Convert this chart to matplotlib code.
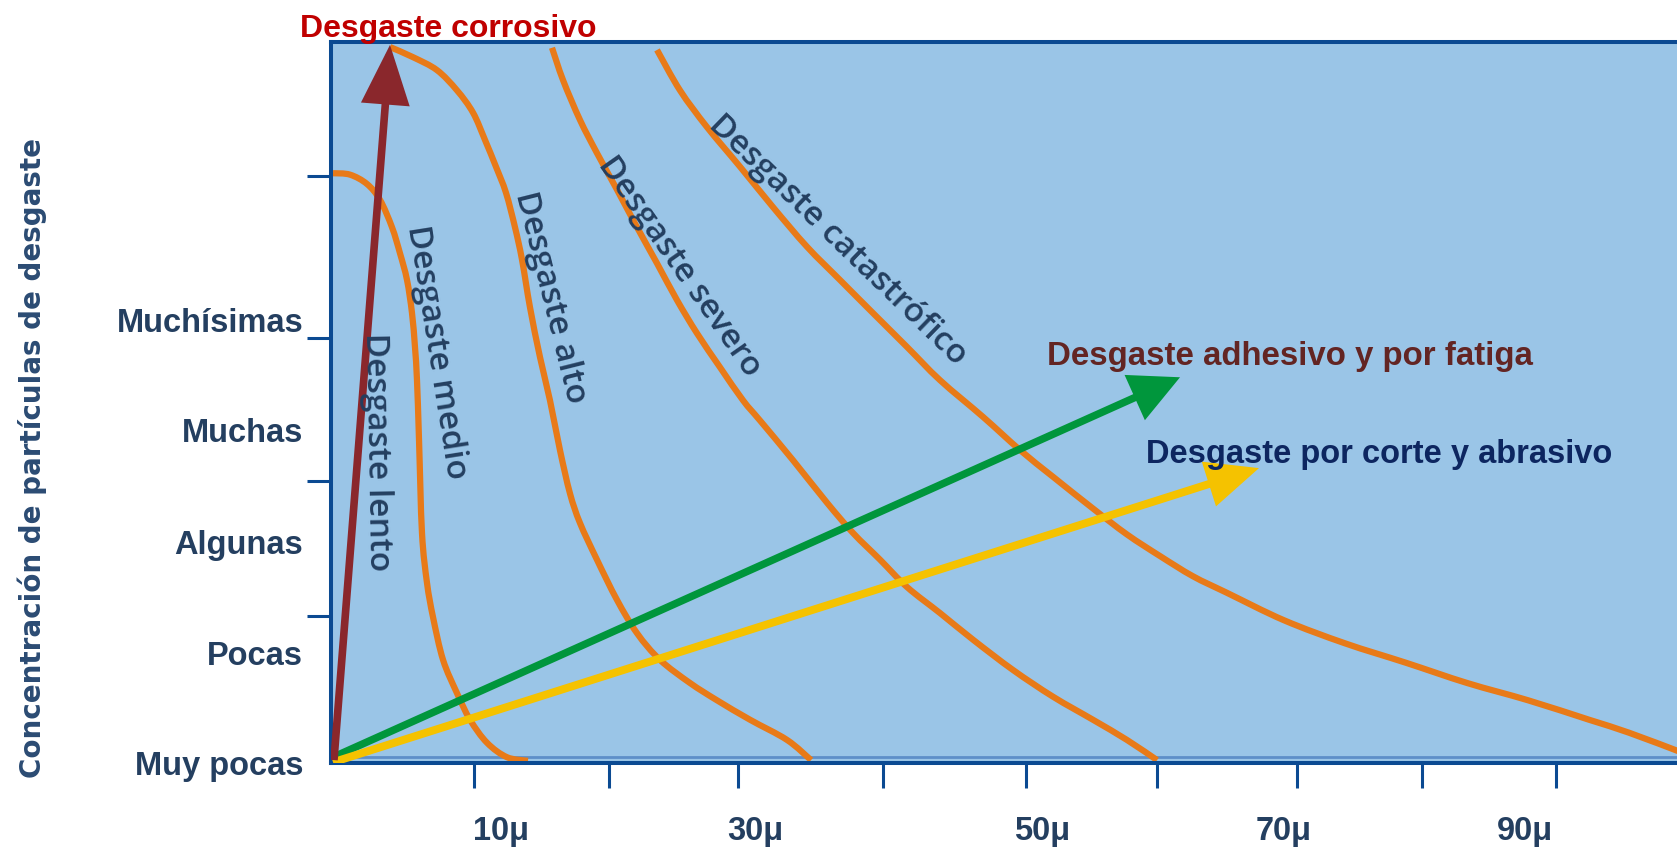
import matplotlib
matplotlib.use("Agg")
import matplotlib.pyplot as plt
from matplotlib.patches import FancyArrowPatch, ArrowStyle, PathPatch
from matplotlib.path import Path

# ---------------- data (axes units: x 0..100, y 0..100) ----------------
lento_x = [0.15, 1.41, 2.67, 3.63, 4.52, 5.11, 5.63, 6.0, 6.22, 6.37, 6.52, 6.74, 7.11, 7.56, 8.30, 9.33, 10.30, 11.56, 13.04, 14.59]
lento_y = [81.8, 81.6, 80.3, 78.1, 74.3, 70.7, 67.0, 62.4, 57.7, 53.1, 44.8, 31.9, 25.0, 20.2, 14.3, 9.7, 6.0, 2.8, 0.8, 0.3]

medio_x = [4.37, 6.07, 7.85, 9.33, 10.52, 11.41, 12.22, 12.96, 13.63, 14.15, 14.74, 15.48, 16.22, 16.96, 17.70, 18.44, 19.70, 21.19, 22.67, 24.37, 26.59, 28.59, 31.04, 33.78, 35.56]
medio_y = [99.3, 97.9, 96.1, 93.3, 90.2, 86.4, 82.7, 79.1, 74.3, 69.8, 63.2, 56.3, 50.3, 43.4, 37.4, 33.3, 28.2, 22.6, 18.0, 14.3, 11.1, 8.7, 6.0, 3.2, 0.4]

alto_x = [16.37, 17.19, 18.44, 19.70, 21.19, 22.67, 24.15, 25.63, 27.11, 28.81, 30.52, 31.78, 34.22, 36.74, 38.67, 40.67, 42.67, 45.11, 47.56, 50.52, 53.48, 56.44, 58.96, 61.19]
alto_y = [99.2, 94.7, 89.2, 84.6, 79.5, 74.3, 69.3, 64.2, 59.6, 54.9, 50.3, 47.5, 42.0, 36.1, 31.9, 28.2, 24.4, 20.8, 17.1, 12.9, 9.2, 6.0, 3.2, 0.4]

cat_x = [24.15, 25.85, 27.85, 30.30, 32.74, 35.26, 37.70, 40.15, 42.67, 45.11, 48.30, 51.04, 53.48, 56.44, 58.96, 61.41, 63.85, 66.37, 70.59, 75.11, 79.63, 84.15, 88.67, 93.19, 96.15, 100.0]
cat_y = [98.9, 93.3, 88.2, 82.7, 77.1, 71.6, 67.0, 62.4, 57.7, 53.1, 48.0, 43.4, 39.7, 35.3, 31.7, 28.7, 25.9, 23.6, 19.8, 16.6, 13.9, 11.1, 8.7, 6.0, 4.2, 1.5]

# arrows: (tail, tip)
arrow_corrosivo = [(0.22, 0.4), (4.37, 99.6)]
arrow_adhesivo = [(0.15, 0.8), (62.89, 53.5)]
arrow_abrasivo = [(0.15, 0.1), (68.74, 40.9)]

# y axis categories
y_label_pos = [0.0, 15.3, 30.7, 46.2, 61.5]
y_labels = ["Muy pocas", "Pocas", "Algunas", "Muchas", "Muchísimas"]
y_tick_marks = [20.4, 39.1, 58.9, 81.4]

# x axis
x_label_pos = [12.56, 31.41, 52.64, 70.54, 88.44]
x_labels = ["10μ", "30μ", "50μ", "70μ", "90μ"]
x_tick_marks = [10.59, 20.59, 30.15, 40.89, 51.48, 61.19, 71.56, 80.81, 90.74]

# curve labels: text, x, y, rotation
curve_labels = [
    ("Desgaste lento", 3.41, 43.1, -89),
    ("Desgaste medio", 7.78, 57.0, -81),
    ("Desgaste alto", 16.22, 64.5, -76),
    ("Desgaste severo", 25.78, 68.9, -55),
    ("Desgaste catastrófico", 37.56, 72.5, -44),
]

# ---------------- style ----------------
bg = "#9AC5E7"
spine_c = "#0B4A92"
orange = "#E87A18"
red_arrow = "#8A272C"
green = "#00963C"
yellow = "#F5C200"
label_c = "#243F60"
cond_font = "Liberation Sans"

fig = plt.figure(figsize=(16.77, 8.61), dpi=100)
ax = fig.add_axes([331 / 1677, 1 - 763 / 861, 1350 / 1677, 721 / 861])
ax.set_facecolor(bg)
ax.set_xlim(0, 100)
ax.set_ylim(0, 100)

for s in ["left", "top", "bottom"]:
    ax.spines[s].set_color(spine_c)
    ax.spines[s].set_linewidth(2.9)
ax.spines["right"].set_visible(False)
ax.axhline(0.9, color="#5E8FC8", lw=2.0, zorder=1.5)


def smooth_path(xs, ys):
    pts = list(zip(xs, ys))
    verts = [pts[0]]
    codes = [Path.MOVETO]
    n = len(pts)
    for i in range(n - 1):
        p0 = pts[i - 1] if i > 0 else pts[i]
        p1 = pts[i]
        p2 = pts[i + 1]
        p3 = pts[i + 2] if i + 2 < n else pts[i + 1]
        c1 = (p1[0] + (p2[0] - p0[0]) / 6, p1[1] + (p2[1] - p0[1]) / 6)
        c2 = (p2[0] - (p3[0] - p1[0]) / 6, p2[1] - (p3[1] - p1[1]) / 6)
        verts += [c1, c2, p2]
        codes += [Path.CURVE4] * 3
    return Path(verts, codes)


for xs, ys in [(lento_x, lento_y), (medio_x, medio_y), (alto_x, alto_y), (cat_x, cat_y)]:
    ax.add_patch(PathPatch(smooth_path(xs, ys), fill=False, edgecolor=orange, lw=4.5,
                           capstyle="butt", zorder=2))


def draw_arrow(pts, color, lw, hl, hw):
    st = ArrowStyle("-|>", head_length=hl, head_width=hw)
    a = FancyArrowPatch(pts[0], pts[1], arrowstyle=st, mutation_scale=1,
                        lw=lw, color=color, shrinkA=0, shrinkB=0,
                        joinstyle="miter", capstyle="butt", zorder=3)
    ax.add_patch(a)


draw_arrow(arrow_adhesivo, green, 5.4, 27, 13.5)
draw_arrow(arrow_abrasivo, yellow, 5.7, 28, 12.5)
draw_arrow(arrow_corrosivo, red_arrow, 5.5, 33, 13.5)

# ticks
ax.set_yticks(y_label_pos, y_labels)
ax.set_yticks(y_tick_marks, minor=True)
ax.tick_params(axis="y", which="major", length=0, pad=20)
ax.tick_params(axis="y", which="minor", length=17, width=2.2, color=spine_c, direction="out")
ax.set_xticks(x_label_pos, x_labels)
ax.set_xticks(x_tick_marks, minor=True)
ax.tick_params(axis="x", which="major", length=0, pad=38)
ax.tick_params(axis="x", which="minor", length=18, width=2.2, color=spine_c, direction="out")
for lab in ax.get_yticklabels() + ax.get_xticklabels():
    lab.set_fontfamily(cond_font)
    lab.set_fontweight("bold")
    lab.set_fontsize(23.5)
    lab.set_color(label_c)

# curve labels
for txt, x, y, rot in curve_labels:
    ax.text(x, y, txt, rotation=rot, rotation_mode="anchor", ha="center", va="center",
            fontsize=24, family="Open Sans", fontweight="semibold", color=label_c, zorder=5)

# annotations
ax.text(8.67, 100.7, "Desgaste corrosivo", ha="center", va="baseline", fontsize=23,
        family=cond_font, fontweight="bold", color="#C00000", clip_on=False, zorder=6)
ax.text(53.04, 55.2, "Desgaste adhesivo y por fatiga", ha="left", va="baseline", fontsize=23.8,
        family=cond_font, fontweight="bold", color="#632523", zorder=6)
ax.text(60.37, 41.6, "Desgaste por corte y abrasivo", ha="left", va="baseline", fontsize=23.5,
        family=cond_font, fontweight="bold", color="#0D2660", zorder=6)

# y axis title
fig.text(32 / 1677, 1 - 458 / 861, "Concentración de partículas de desgaste", rotation=90,
         ha="center", va="center", fontsize=20, family="DejaVu Sans", fontweight="bold",
         color="#2B4B73")

fig.savefig("out.png", dpi=100)
